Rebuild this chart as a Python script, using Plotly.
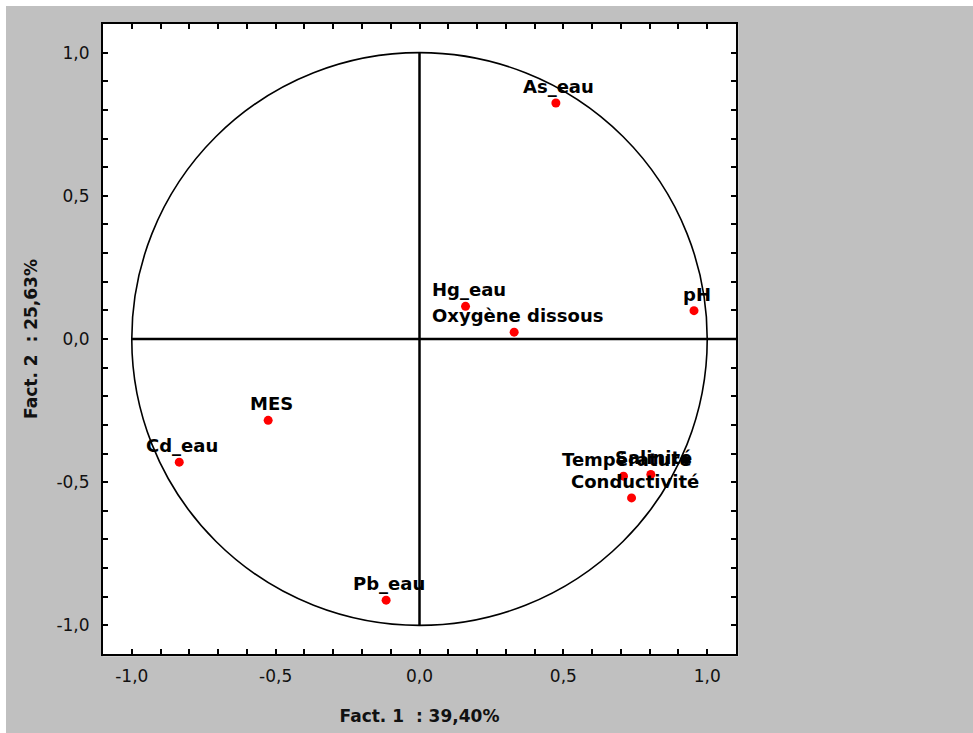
import plotly.graph_objects as go

# Variables (factor coordinates)
names = ["As_eau", "pH", "Hg_eau", "Oxygène dissous", "MES", "Cd_eau",
         "Pb_eau", "Température", "Salinité", "Conductivité"]
fact1 = [0.474, 0.954, 0.160, 0.329, -0.526, -0.835, -0.116, 0.709, 0.804, 0.737]
fact2 = [0.824, 0.099, 0.114, 0.024, -0.284, -0.430, -0.912, -0.479, -0.473, -0.555]

tick_vals = [-1.0, -0.5, 0.0, 0.5, 1.0]
tick_text = ["-1,0", "-0,5", "0,0", "0,5", "1,0"]

x_title = "Fact. 1\u00a0\u00a0: 39,40%"
y_title = "Fact. 2\u00a0\u00a0: 25,63%"

GRAY = "#c0c0c0"
LBL_FONT = dict(family="DejaVu Sans", size=18, color="black")
TICK_FONT = dict(family="DejaVu Sans", size=17, color="#111111")

fig = go.Figure()
fig.add_trace(go.Scatter(
    x=fact1, y=fact2, mode="markers",
    marker=dict(color="#ff0000", size=9, line=dict(width=0)),
    hoverinfo="skip", showlegend=False,
))

for n, a, b in zip(names, fact1, fact2):
    fig.add_annotation(x=a, y=b, text="<b>%s</b>" % n, showarrow=False,
                       xanchor="center", yanchor="bottom", xshift=3, yshift=4,
                       font=LBL_FONT)

shapes = [
    # white strips at page top/left
    dict(type="rect", xref="paper", yref="paper", x0=-0.17, x1=1.38, y0=1.02857, y1=1.05,
         fillcolor="white", line=dict(width=0), layer="below"),
    dict(type="rect", xref="paper", yref="paper", x0=-0.17, x1=-0.15324, y0=-0.2, y1=1.05,
         fillcolor="white", line=dict(width=0), layer="below"),
    # slight white rim outside frame on right/bottom
    dict(type="rect", xref="paper", yref="paper", x0=0, x1=1.0035, y0=-0.0035, y1=1,
         fillcolor="white", line=dict(width=0), layer="below"),
    # unit circle
    dict(type="circle", xref="x", yref="y", x0=-1, y0=-1, x1=1, y1=1,
         line=dict(color="black", width=1.6), layer="below"),
    # axes through origin
    dict(type="line", xref="x", yref="y", x0=0, x1=0, y0=-1, y1=1,
         line=dict(color="black", width=2.5), layer="below"),
    dict(type="line", xref="x", yref="y", x0=-1, x1=1.1, y0=0, y1=0,
         line=dict(color="black", width=2.5), layer="below"),
]

axis_common = dict(
    range=[-1.1, 1.1], tickmode="array", tickvals=tick_vals, ticktext=tick_text,
    ticks="inside", ticklen=5, tickwidth=1.5, tickcolor="black",
    minor=dict(dtick=0.1, tick0=0, ticks="inside", ticklen=5, tickwidth=1.5, tickcolor="black"),
    showline=True, linecolor="black", linewidth=2, mirror="ticks",
    showgrid=False, zeroline=False, tickfont=TICK_FONT,
    fixedrange=True, automargin=False,
)

fig.update_layout(
    width=973, height=733,
    margin=dict(l=103, r=237, t=24, b=79, pad=0, autoexpand=False),
    paper_bgcolor=GRAY, plot_bgcolor="white",
    shapes=shapes,
    xaxis=dict(**axis_common, ticklabelstandoff=6,
               title=dict(text="<b>%s</b>" % x_title, standoff=25,
                          font=dict(family="DejaVu Sans", size=17, color="#111111"))),
    yaxis=dict(**axis_common, ticklabelstandoff=8,
               title=dict(text="<b>%s</b>" % y_title, standoff=14,
                          font=dict(family="DejaVu Sans", size=17, color="#111111"))),
)

fig.write_html("out.html")
